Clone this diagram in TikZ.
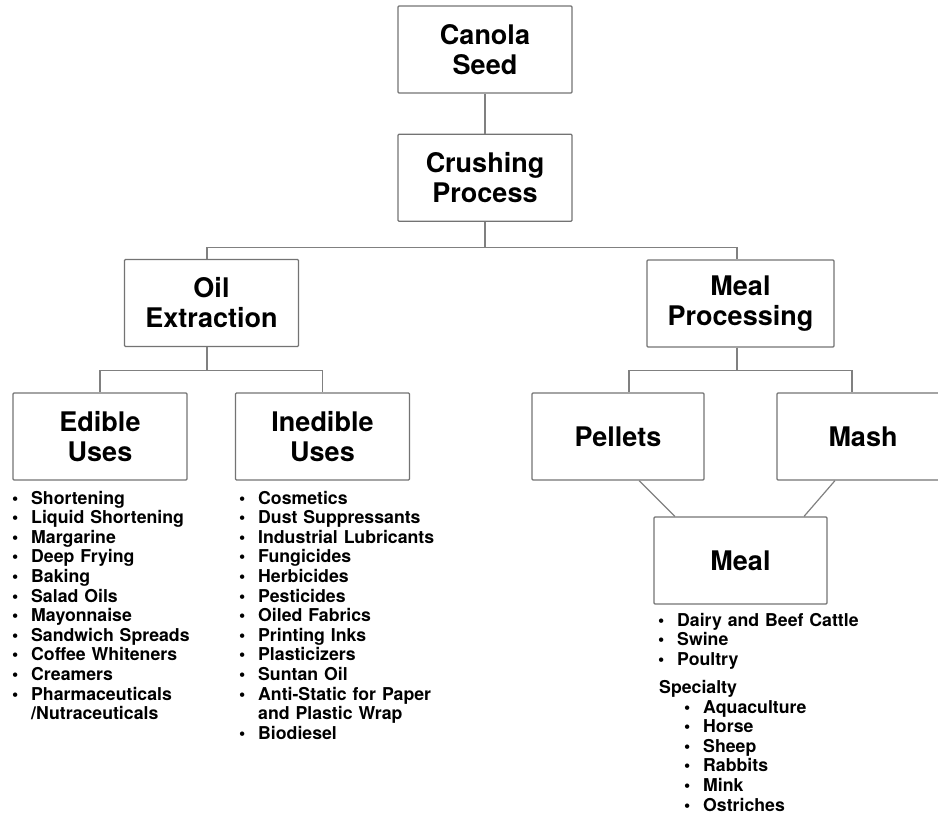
\documentclass[tikz,border=0pt]{standalone}
\usepackage{fontspec}
\setmainfont{TeX Gyre Heros}
\usetikzlibrary{positioning}

\newcommand{\bul}{\makebox[19pt][l]{\textbullet}}

\begin{document}
\begin{tikzpicture}[
  x=1pt, y=-1pt,
  box/.style={
    draw=black!55,
    line width=1.2pt,
    rounded corners=1pt,
    align=center,
    minimum width=174pt,
    minimum height=87pt,
    inner sep=0pt,
    font=\fontsize{27}{30}\selectfont\bfseries
  },
  itemlist/.style={
    anchor=base west,
    inner sep=0pt,
    text width=260pt,
    align=left,
    font=\fontsize{17.7}{19.6}\selectfont\bfseries
  },
  link/.style={draw=black!50, line width=1.2pt}
]
\useasboundingbox (0,0) rectangle (938,815);

\node[box] (seed) at (485,49.5) {Canola\\Seed};
\node[box, below=40pt of seed] (crush) {Crushing\\Process};
\node[box] (oil) at (211.5,303) {Oil\\Extraction};
\node[box, minimum width=187pt] (mproc) at (740.5,303.5) {Meal\\Processing};
\node[box] (edible) at (100,436.5) {Edible\\Uses};
\node[box] (inedible) at (322.5,436.5) {Inedible\\Uses};
\node[box, minimum width=172pt] (pellets) at (618,436.5) {Pellets};
\node[box, minimum width=172pt] (mash) at (863,436.5) {Mash};
\node[box, minimum width=173pt] (meal) at (740.5,560.5) {Meal};

\draw[link] (seed) -- (crush);
\draw[link] (crush.south) -- ++(0,26) -| ([xshift=-4.5pt]oil.north);
\draw[link] (crush.south) -- ++(0,26) -| ([xshift=-3.5pt]mproc.north);
\draw[link] ([xshift=-4.5pt]oil.south) -- ++(0,23) -| (edible.north);
\draw[link] ([xshift=-4.5pt]oil.south) -- ++(0,23) -| (inedible.north);
\draw[link] ([xshift=-3.5pt]mproc.south) -- ++(0,23) -| ([xshift=11pt]pellets.north);
\draw[link] ([xshift=-3.5pt]mproc.south) -- ++(0,23) -| ([xshift=-11pt]mash.north);
\draw[link] ([xshift=21pt]pellets.south) -- ([xshift=-65.5pt]meal.north);
\draw[link] ([xshift=-28pt]mash.south) -- ([xshift=63.5pt]meal.north);

% lists of uses
\node[itemlist] (edlist) at (12,504) {\bul Shortening\\
  \bul Liquid Shortening\\
  \bul Margarine\\
  \bul Deep Frying\\
  \bul Baking\\
  \bul Salad Oils\\
  \bul Mayonnaise\\
  \bul Sandwich Spreads\\
  \bul Coffee Whiteners\\
  \bul Creamers\\
  \bul Pharmaceuticals\\
  \hspace*{19pt}/Nutraceuticals};
\node[itemlist] (inedlist) at (239,504) {\bul Cosmetics\\
  \bul Dust Suppressants\\
  \bul Industrial Lubricants\\
  \bul Fungicides\\
  \bul Herbicides\\
  \bul Pesticides\\
  \bul Oiled Fabrics\\
  \bul Printing Inks\\
  \bul Plasticizers\\
  \bul Suntan Oil\\
  \bul Anti-Static for Paper\\
  \hspace*{19pt}and Plastic Wrap\\
  \bul Biodiesel};
\node[itemlist] (meallist) at (658,626) {\bul Dairy and Beef Cattle\\
  \bul Swine\\
  \bul Poultry};
\node[itemlist] (spechead) at (659,693) {Specialty};
\node[itemlist] (speclist) at (684,713) {\bul Aquaculture\\
  \bul Horse\\
  \bul Sheep\\
  \bul Rabbits\\
  \bul Mink\\
  \bul Ostriches};

\end{tikzpicture}
\end{document}
